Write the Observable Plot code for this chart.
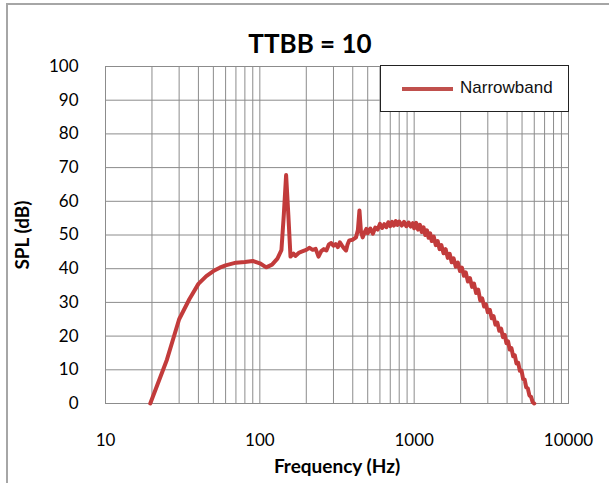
<!DOCTYPE html>
<html><head><meta charset="utf-8">
<script src="https://cdn.jsdelivr.net/npm/d3@7"></script>
<script src="https://cdn.jsdelivr.net/npm/@observablehq/plot@0.6"></script>
<style>
body{margin:0;background:#fff;}
#wrap{position:relative;width:609px;height:483px;overflow:hidden;font-family:Lato,sans-serif;background:#fff;}
#border{position:absolute;left:6px;top:3px;width:700px;height:700px;border-left:2px solid #a6a6a6;border-top:2px solid #a6a6a6;}
#chart{position:absolute;left:0;top:0;}
#title{position:absolute;left:0px;width:620px;top:30px;text-align:center;font-weight:bold;font-size:26px;line-height:26px;color:#000;}
#legend{position:absolute;left:380px;top:65px;width:189px;height:47px;box-sizing:border-box;border:1.5px solid #222;background:#fff;}
#legend .swatch{position:absolute;left:21px;top:21px;width:51px;height:4px;background:#c0504d;}
#legend .lab{position:absolute;left:79px;top:12px;font-family:"Liberation Sans",Arial,sans-serif;font-size:17px;line-height:20px;color:#111;}
#chart svg [aria-label="x-axis label"] text, #chart svg [aria-label="y-axis label"] text,
#chart svg g[aria-label="x-axis label"], #chart svg g[aria-label="y-axis label"]{font-weight:bold;font-size:19px;}
</style>
</head><body>
<div id="wrap">
  <div id="border"></div>
  <div id="chart"></div>
  <div id="title">TTBB = 10</div>
  <div id="legend"><div class="swatch"></div><div class="lab">Narrowband</div></div>
</div>
<script>
const titleText = "TTBB = 10";
const seriesName = "Narrowband";
const xTickValues = [10, 100, 1000, 10000];
const yTickValues = [0, 10, 20, 30, 40, 50, 60, 70, 80, 90, 100];
const minorXGrid = [20,30,40,50,60,70,80,90,100,200,300,400,500,600,700,800,900,1000,2000,3000,4000,5000,6000,7000,8000,9000];
const freqHz = [19.5,25,30,35,40,45,50,55,60,70,80,90,100,110,120,130,138,143,148,153,158,165,170,180,190,200,210,220,230,240,250,260,270,280,290,300,310,320,330,340,350,362,370,380,400,420,432,442,452,464,475,490,500,520,540,560,580,600,620,640,660,680,700,720,740,760,780,800,830,860,890,920,950,980,
  1000,1030,1060,1090,1120,1150,1180,1210,1240,1270,1300,1340,1380,1420,1460,1500,1550,1600,1650,1700,1750,1800,1860,1920,1980,2040,2100,2160,2230,2300,2370,2440,2520,2600,2680,2760,2840,2920,3000,3090,3180,3270,3360,3460,3560,3660,3760,3860,3960,4060,4160,4270,4380,4490,4600,4720,4840,4960,5080,5200,5320,5450,5580,5720,5860,6000];
const splDb = [0,13,25,31,35.5,37.8,39.3,40.3,41,41.8,42,42.3,41.6,40.4,41.2,43,45.5,56,67.8,56,43.6,44.5,43.8,44.8,45.2,45.6,46.2,45.6,45.9,43.6,45.2,45.8,45.4,47.2,47.6,46.8,47.3,46.4,47.8,46.9,46.1,45.4,47.2,48.4,48.6,49.3,51.5,57.3,51,49.3,50.6,51.8,50.5,51.9,50.4,52.2,51.6,53.3,52.1,53.2,52.3,53.8,52.6,53.9,52.8,54.1,53,54,52.8,53.9,52.6,53.7,52.5,53.5,
  52.0,53.6,51.6,53.0,50.9,52.3,50.0,51.4,49.2,50.5,48.2,49.5,47.0,48.2,45.8,47.0,44.6,45.8,43.2,44.4,41.9,43.1,40.6,41.8,39.3,40.3,37.9,38.9,36.2,37.2,34.6,35.6,32.8,33.8,30.6,31.2,28.8,29.4,27.1,27.8,25.3,25.9,23.4,24.0,21.6,22.2,19.7,20.4,17.9,18.4,16.0,16.4,14.0,14.3,11.9,12.1,9.7,9.8,7.3,7.1,4.8,4.5,2.4,2.0,0.4,0];

const data = freqHz.map((f, i) => ({f, spl: splDb[i]}));
document.getElementById("title").textContent = titleText;
document.querySelector("#legend .lab").textContent = seriesName;

const chart = Plot.plot({
  width: 609, height: 483,
  marginLeft: 105, marginRight: 41, marginTop: 66, marginBottom: 80,
  style: {fontFamily: "Lato, sans-serif", fontSize: "17px", color: "#000", background: "transparent"},
  x: {type: "log", domain: [10, 10000], ticks: xTickValues, tickFormat: d => String(d), tickSize: 0, tickPadding: 30,
      label: "Frequency (Hz)", labelAnchor: "center", labelOffset: 69, labelArrow: "none"},
  y: {domain: [0, 100], ticks: yTickValues, tickSize: 0, tickPadding: 27,
      label: "SPL (dB)", labelAnchor: "center", labelOffset: 90, labelArrow: "none"},
  marks: [
    Plot.gridX(minorXGrid, {stroke: "#8c8c8c", strokeOpacity: 1}),
    Plot.gridY(yTickValues, {stroke: "#8c8c8c", strokeOpacity: 1}),
    Plot.frame({stroke: "#8c8c8c"}),
    Plot.line(data, {x: "f", y: "spl", stroke: "#c23b3b", strokeWidth: 4, strokeLinejoin: "round"})
  ]
});
chart.querySelectorAll('[aria-label$="axis label"] text').forEach(t => {
  t.textContent = t.textContent.replace(/\s*[→←↑↓]\s*/g, "").trim();
});
document.getElementById("chart").appendChild(chart);
</script>
</body></html>
